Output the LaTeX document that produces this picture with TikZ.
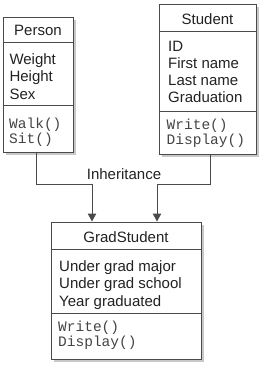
\documentclass[tikz,border=0pt]{standalone}
\usepackage{fontspec}
\setmainfont{Liberation Sans}
\setmonofont{Liberation Mono}
\usetikzlibrary{shapes,arrows.meta,positioning,shadows}

\definecolor{linegray}{HTML}{4A4A4A}
\definecolor{textgray}{HTML}{222222}
\definecolor{codegray}{HTML}{444444}
\definecolor{shadowgray}{HTML}{C8C8C8}

\begin{document}
\begin{tikzpicture}[
    x=1pt, y=-1pt,
    classbox/.style={draw=linegray, line width=1pt, fill=white, inner sep=0pt,
        drop shadow={shadow xshift=2.5pt, shadow yshift=-2.5pt, fill=shadowgray, opacity=1}},
    divider/.style={draw=linegray, line width=0.9pt},
    title/.style={anchor=base, inner sep=0pt, text=textgray, font=\fontsize{15}{17.2}\selectfont},
    attrs/.style={anchor=base west, inner sep=0pt, align=left, text=textgray, font=\fontsize{15}{17.2}\selectfont},
    ops/.style={anchor=base west, inner sep=0pt, align=left, text=codegray, font=\ttfamily\fontsize{14.5}{15}\selectfont},
    label/.style={anchor=base, inner sep=0pt, text=textgray, font=\fontsize{15}{17.2}\selectfont},
    edge/.style={-{Triangle[length=8pt, width=8.5pt]}, draw=linegray, line width=1pt},
]
\useasboundingbox (0,0) rectangle (264,367);

% Person class
\node[classbox, minimum width=70pt, minimum height=135pt] (person) at (38,84.5) {};
\draw[divider] ([yshift=-26pt]person.north west) -- ([yshift=-26pt]person.north east);
\draw[divider] ([yshift=-89pt]person.north west) -- ([yshift=-89pt]person.north east);
\node[title] (personname) at (38,35.7) {Person};
\node[attrs] (personattr) at (9.3,99) {Weight\\Height\\Sex};
\node[ops] (personops) at (9,143.3) {Walk()\\Sit()};

% Student class
\node[classbox, minimum width=97pt, minimum height=150pt] (student) at (207.5,79) {};
\draw[divider] ([yshift=-28pt]student.north west) -- ([yshift=-28pt]student.north east);
\draw[divider] ([yshift=-108pt]student.north west) -- ([yshift=-108pt]student.north east);
\node[title] (studentname) at (207.5,24.3) {Student};
\node[attrs] (studentattr) at (168,102.7) {ID\\First name\\Last name\\Graduation};
\node[ops] (studentops) at (166.5,144) {Write()\\Display()};

% GradStudent class
\node[classbox, minimum width=150pt, minimum height=137pt] (grad) at (126,290.5) {};
\draw[divider] ([yshift=-28pt]grad.north west) -- ([yshift=-28pt]grad.north east);
\draw[divider] ([yshift=-92pt]grad.north west) -- ([yshift=-92pt]grad.north east);
\node[title] (gradname) at (126,242.7) {GradStudent};
\node[attrs] (gradattr) at (59,306) {Under grad major\\Under grad school\\Year graduated};
\node[ops] (gradops) at (58,346.7) {Write()\\Display()};

% Inheritance links
\draw[edge] ([xshift=-2pt]person.south) -- ++(0,32) -| ([xshift=-34pt]grad.north);
\draw[edge] ([xshift=2.5pt]student.south) -- ++(0,30) -| ([xshift=31pt]grad.north);
\node[label] (inherit) at (124,179.3) {Inheritance};

\end{tikzpicture}
\end{document}
